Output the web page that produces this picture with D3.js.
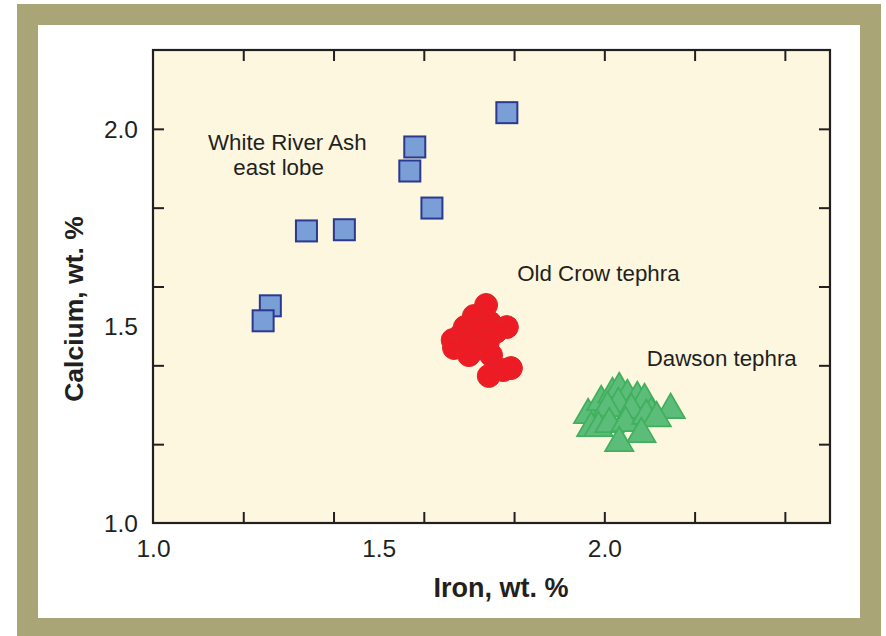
<!DOCTYPE html>
<html>
<head>
<meta charset="utf-8">
<script src="https://cdn.jsdelivr.net/npm/d3@7"></script>
<style>
  body { margin: 0; background: #fff; }
  text { font-family: "Liberation Sans", Arial, Helvetica, sans-serif; fill: #231f20; }
</style>
</head>
<body>
<div class="canvas"></div>
<script>
// Data: iron (x) and calcium (y), wt. %
const whiteRiver = [
  [1.784, 2.041], [1.580, 1.954], [1.569, 1.893], [1.618, 1.799],
  [1.340, 1.741], [1.424, 1.744], [1.260, 1.551], [1.244, 1.513]
]
const oldCrow = [
  [1.738, 1.553], [1.711, 1.525], [1.691, 1.497], [1.784, 1.497],
  [1.747, 1.508], [1.722, 1.490], [1.682, 1.477], [1.760, 1.485],
  [1.664, 1.464], [1.667, 1.444], [1.698, 1.459], [1.742, 1.459],
  [1.711, 1.439], [1.700, 1.426], [1.749, 1.426], [1.793, 1.393],
  [1.776, 1.388], [1.744, 1.373]
]
const dawson = [
  [1.964, 1.274], [1.993, 1.307], [2.018, 1.327], [2.033, 1.340],
  [2.051, 1.322], [2.073, 1.317], [2.089, 1.312], [2.031, 1.302],
  [2.007, 1.292], [2.060, 1.287], [2.104, 1.277], [2.147, 1.287],
  [1.971, 1.241], [1.987, 1.241], [2.011, 1.251], [2.047, 1.254],
  [2.093, 1.272], [2.116, 1.266], [2.082, 1.226], [2.033, 1.203]
]
const minorTicks = [1.2, 1.4, 1.6, 1.8, 2.0, 2.2, 2.4]
const yMinorTicks = [1.2, 1.4, 1.6, 1.8, 2.0]
const labelTicks = [1.0, 1.5, 2.0]
const labels = [
  { text: 'White River Ash', x: 1.122, y: 1.947 },
  { text: 'east lobe', x: 1.178, y: 1.882 },
  { text: 'Old Crow tephra', x: 1.807, y: 1.615 },
  { text: 'Dawson tephra', x: 2.094, y: 1.399 }
]

const width = 886
const height = 636

const svg = d3.select('.canvas')
  .append('svg')
    .attr('width', width)
    .attr('height', height)

// Olive frame with white panel
svg.append('rect')
  .attr('x', 17).attr('y', 4)
  .attr('width', 864).attr('height', 640)
  .attr('fill', '#a9a577')
svg.append('rect')
  .attr('x', 38).attr('y', 25)
  .attr('width', 822).attr('height', 593)
  .attr('fill', '#ffffff')

const margin = {top: 50, left: 153}
const graphWidth = 677
const graphHeight = 473

const graph = svg.append('g')
  .attr('transform', `translate(${margin.left},${margin.top})`)

graph.append('rect')
  .attr('width', graphWidth)
  .attr('height', graphHeight)
  .attr('fill', '#fcf7de')

// Scales
const x = d3.scaleLinear().domain([1, 2.5]).range([0, graphWidth])
const y = d3.scaleLinear().domain([1, 2.2]).range([graphHeight, 0])

// Inward tick marks on all four sides
const tickLen = 11
const styleTicks = g => {
  g.select('.domain').remove()
  g.selectAll('line').attr('stroke', '#231f20').attr('stroke-width', 2)
  g.selectAll('text').remove()
}
graph.append('g')
  .attr('transform', `translate(0,${graphHeight})`)
  .call(d3.axisBottom(x).tickValues(minorTicks).tickSize(-tickLen))
  .call(styleTicks)
graph.append('g')
  .call(d3.axisTop(x).tickValues(minorTicks).tickSize(-tickLen))
  .call(styleTicks)
graph.append('g')
  .call(d3.axisLeft(y).tickValues(yMinorTicks).tickSize(-tickLen))
  .call(styleTicks)
graph.append('g')
  .attr('transform', `translate(${graphWidth},0)`)
  .call(d3.axisRight(y).tickValues(yMinorTicks).tickSize(-tickLen))
  .call(styleTicks)

// Tick labels
const xLabels = graph.append('g')
  .attr('transform', `translate(0,${graphHeight})`)
  .call(d3.axisBottom(x).tickValues(labelTicks).tickSize(0).tickPadding(0).tickFormat(d3.format('.1f')))
xLabels.select('.domain').remove()
xLabels.selectAll('text')
  .attr('font-size', 24.5)
  .attr('font-family', null)
  .attr('y', 34).attr('dy', 0)

const yLabels = graph.append('g')
  .call(d3.axisLeft(y).tickValues(labelTicks).tickSize(0).tickPadding(15).tickFormat(d3.format('.1f')))
yLabels.select('.domain').remove()
yLabels.selectAll('text')
  .attr('font-size', 24.5)
  .attr('font-family', null)
  .attr('dy', '0.36em')

// Frame
graph.append('rect')
  .attr('width', graphWidth)
  .attr('height', graphHeight)
  .attr('fill', 'none')
  .attr('stroke', '#231f20')
  .attr('stroke-width', 2.2)

// Axis titles
svg.append('text')
  .attr('x', 501).attr('y', 597)
  .attr('text-anchor', 'middle')
  .attr('font-size', 27)
  .attr('font-weight', 'bold')
  .text('Iron, wt. %')

svg.append('text')
  .attr('transform', 'translate(83,309) rotate(-90)')
  .attr('text-anchor', 'middle')
  .attr('font-size', 26.5)
  .attr('font-weight', 'bold')
  .text('Calcium, wt. %')

// Markers
graph.selectAll('rect.wra')
  .data(whiteRiver)
  .enter()
  .append('rect')
    .attr('class', 'wra')
    .attr('x', d => x(d[0]) - 10.5)
    .attr('y', d => y(d[1]) - 10.5)
    .attr('width', 21)
    .attr('height', 21)
    .attr('fill', '#7a9fd6')
    .attr('stroke', '#2b3990')
    .attr('stroke-width', 2)

graph.selectAll('circle.oc')
  .data(oldCrow)
  .enter()
  .append('circle')
    .attr('class', 'oc')
    .attr('cx', d => x(d[0]))
    .attr('cy', d => y(d[1]))
    .attr('r', 11.5)
    .attr('fill', '#ed1c24')
    .attr('stroke', '#e0252b')
    .attr('stroke-width', 1)

const tri = d3.symbol().type(d3.symbolTriangle).size(345)
graph.selectAll('path.dt')
  .data(dawson)
  .enter()
  .append('path')
    .attr('class', 'dt')
    .attr('d', tri)
    .attr('transform', d => `translate(${x(d[0])},${y(d[1])})`)
    .attr('fill', '#5cbd7a')
    .attr('stroke', '#41b05e')
    .attr('stroke-width', 1.8)

// Annotations
graph.selectAll('text.note')
  .data(labels)
  .enter()
  .append('text')
    .attr('class', 'note')
    .attr('x', d => x(d.x))
    .attr('y', d => y(d.y))
    .attr('font-size', 22.3)
    .text(d => d.text)
</script>
</body>
</html>
